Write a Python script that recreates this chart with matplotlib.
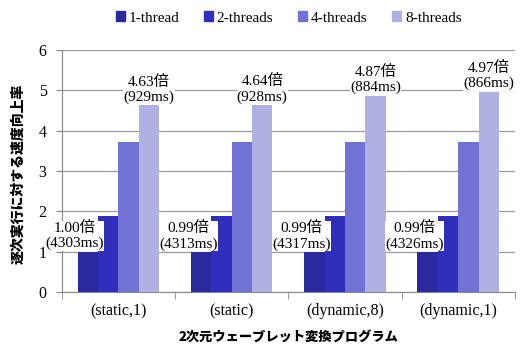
import numpy as np
import matplotlib
matplotlib.use("Agg")
import matplotlib.pyplot as plt
from matplotlib.patches import Patch

# data
PROGRAMS = ["(static,1)", "(static)", "(dynamic,8)", "(dynamic,1)"]
THREADS = ["1-thread", "2-threads", "4-threads", "8-threads"]
speedup_1 = [1.00, 0.99, 0.99, 0.99]
speedup_2 = [1.88, 1.88, 1.88, 1.88]
speedup_4 = [3.72, 3.72, 3.72, 3.72]
speedup_8 = [4.63, 4.64, 4.87, 4.97]
time_1 = [4303, 4313, 4317, 4326]
time_8 = [929, 928, 884, 866]

COLORS = ["#2a2a9e", "#2f2fbb", "#7272d4", "#b0b0e2"]
SERIF = ["Liberation Serif", "Noto Sans CJK JP"]
CJK = "Noto Sans CJK JP"


def main():
    plt.rcParams["font.family"] = SERIF
    fig = plt.figure(figsize=(5.2, 3.47), dpi=100)
    ax = fig.add_axes([0.119, 0.1585, 0.871, 0.697])

    x = np.arange(len(PROGRAMS))
    width = 0.18
    series = [speedup_1, speedup_2, speedup_4, speedup_8]
    offsets = [-1.5, -0.5, 0.5, 1.5]
    for vals, off, color in zip(series, offsets, COLORS):
        ax.bar(x + off * width, vals, width, color=color, zorder=3)

    # labels over 1-thread and 8-thread bars
    for i in range(len(PROGRAMS)):
        ax.text(x[i] - 1.5 * width - 0.115, speedup_1[i] + 0.03,
                f"{speedup_1[i]:.2f}倍\n({time_1[i]}ms)",
                ha="center", va="bottom", fontsize=11, linespacing=1.2,
                bbox=dict(facecolor="white", edgecolor="none", pad=0.2),
                zorder=4)
        ax.text(x[i] + 1.5 * width, speedup_8[i] + 0.03,
                f"{speedup_8[i]:.2f}倍\n({time_8[i]}ms)",
                ha="center", va="bottom", fontsize=11, linespacing=1.2,
                bbox=dict(facecolor="white", edgecolor="none", pad=0.2),
                zorder=4)

    ax.set_xlim(-0.5, len(PROGRAMS) - 0.5)
    ax.set_ylim(0, 6)
    ax.set_yticks(range(7))
    ax.set_xticks(x)
    ax.set_xticklabels(PROGRAMS)
    ax.set_xticks(np.arange(-0.5, len(PROGRAMS)), minor=True)
    ax.tick_params(axis="x", which="major", length=0, labelsize=11.5, pad=8)
    ax.tick_params(axis="x", which="minor", length=5, color="#888888")
    ax.tick_params(axis="y", length=4, color="#888888", labelsize=11.5, pad=7)
    ax.yaxis.grid(True, color="#999999", linewidth=0.9, zorder=0)
    for s in ["top", "right"]:
        ax.spines[s].set_visible(False)
    for s in ["left", "bottom"]:
        ax.spines[s].set_color("#888888")

    fig.text(0.036, 0.50, "逐次実行に対する速度向上率", rotation=90,
             ha="center", va="center", family=CJK, weight="heavy", fontsize=10)
    fig.text(0.554, 0.026, "2次元ウェーブレット変換プログラム",
             ha="center", va="center", family=CJK, weight="heavy", fontsize=9.5)

    handles = [Patch(color=c, label=t) for c, t in zip(COLORS, THREADS)]
    fig.legend(handles=handles, loc="center", bbox_to_anchor=(0.555, 0.948),
               ncol=4, frameon=False, fontsize=11, handlelength=0.6,
               handleheight=0.6, handletextpad=0.25, columnspacing=1.6)

    fig.savefig("out.png")


if __name__ == "__main__":
    main()
